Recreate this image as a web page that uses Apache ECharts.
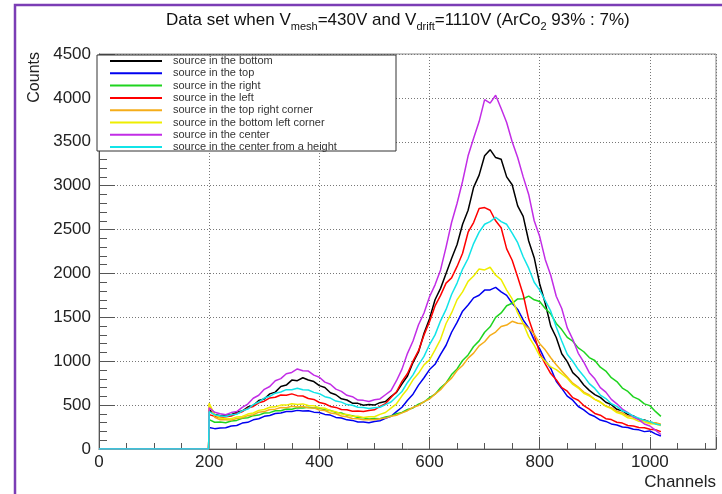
<!DOCTYPE html>
<html><head><meta charset="utf-8">
<script src="https://cdn.jsdelivr.net/npm/echarts@6/dist/echarts.min.js"></script>
<style>html,body{margin:0;padding:0;background:#fff}#c{width:722px;height:494px}</style>
</head><body><div id="c"></div>
<script>
// Channel positions (x values)
const channels = [0,199,
200,210,220,230,240,250,260,270,280,290,
300,310,320,330,340,350,360,370,380,390,
400,410,420,430,440,450,460,470,480,490,
500,510,520,530,540,550,560,570,580,590,
600,610,620,630,640,650,660,670,680,690,
700,710,720,730,740,750,760,770,780,790,
800,810,820,830,840,850,860,870,880,890,
900,910,920,930,940,950,960,970,980,990,
1000,1010,1020];

const names = ["source in the bottom","source in the top","source in the right","source in the left",
"source in the top right corner","source in the bottom left corner","source in the center","source in the center from a height"];
const colors = ['#000000','#0000f0','#1fd41f','#ff0000','#f5ad1a','#eeee00','#c22de6','#11e4e8'];

const srcBottom = [0,0,
445,392,378,388,390,418,432,478,495,552,
570,628,648,712,728,785,778,812,786,768,
722,700,640,618,572,558,522,520,498,508,
500,528,540,598,645,742,832,985,1105,1318,
1485,1700,1830,2000,2170,2330,2560,2720,2980,3120,
3340,3410,3320,3300,3100,3010,2770,2650,2370,2180,
1880,1660,1400,1270,1085,995,870,812,730,668,
620,588,532,505,452,436,392,376,340,330,
305,295,275];
const srcTop = [0,0,
245,232,240,242,262,268,295,304,332,344,
372,381,404,410,428,426,440,432,436,420,
416,394,386,360,354,332,326,308,308,298,
314,322,350,372,425,476,556,625,728,812,
905,965,1078,1182,1330,1442,1570,1640,1722,1752,
1810,1812,1842,1790,1750,1660,1590,1470,1380,1240,
1140,1010,920,772,690,602,556,484,446,396,
370,330,314,286,274,250,244,224,218,198,
206,172,148];
const srcRight = [0,0,
335,305,308,300,318,326,350,356,380,386,
410,414,436,436,456,454,470,466,476,466,
466,446,440,416,410,386,378,358,356,342,
348,346,366,375,402,416,450,468,510,535,
586,625,698,752,848,912,1008,1072,1168,1232,
1330,1392,1500,1550,1632,1660,1710,1712,1742,1700,
1680,1600,1540,1430,1360,1272,1228,1152,1108,1042,
1008,932,888,812,768,694,656,594,566,514,
494,428,372];
const srcLeft = [0,0,
392,372,355,368,376,405,425,466,485,526,
545,582,590,615,612,628,608,604,575,565,
530,515,485,474,450,448,430,434,426,438,
446,485,515,586,652,770,860,1000,1120,1300,
1450,1630,1750,1890,1950,2080,2230,2470,2580,2740,
2750,2720,2600,2520,2280,2150,1960,1760,1480,1300,
1090,970,860,790,700,658,585,556,495,455,
405,385,345,335,305,295,268,262,245,242,
225,220,198];
const srcTopRight = [0,0,
515,362,332,334,330,348,356,380,390,420,
426,450,454,472,471,486,478,484,470,468,
445,438,410,402,376,368,348,345,332,335,
332,345,352,372,385,412,436,474,496,540,
570,625,675,750,808,895,952,1035,1092,1175,
1222,1295,1332,1395,1412,1455,1432,1428,1372,1310,
1200,1130,1040,960,890,820,750,705,648,615,
565,535,490,470,430,410,375,365,335,325,
300,298,282];
const srcBottomLeft = [0,0,
520,392,352,348,346,364,370,398,410,440,
450,475,480,500,500,515,508,514,496,494,
470,464,436,424,400,394,374,373,360,368,
368,394,416,466,515,606,684,788,862,958,
1015,1130,1250,1430,1550,1700,1790,1910,1970,2050,
2040,2070,1980,1930,1810,1710,1550,1430,1280,1180,
1060,1000,935,905,855,806,735,695,635,605,
565,535,485,460,415,395,355,345,315,308,
288,284,268];
const srcCenter = [0,0,
470,418,402,390,415,426,475,512,578,612,
680,712,778,802,858,872,912,892,888,842,
818,762,738,682,656,612,596,558,554,542,
560,570,618,664,778,910,1090,1230,1415,1550,
1735,1870,2040,2300,2580,2800,3050,3340,3540,3730,
3980,3940,4030,3880,3720,3500,3320,3100,2900,2600,
2420,2160,1980,1740,1600,1380,1250,1090,990,870,
800,700,648,565,515,455,415,365,335,285,
262,215,165];
const srcCenterHeight = [0,0,
425,388,378,370,390,396,435,455,505,535,
580,600,636,650,676,674,692,676,672,645,
630,596,580,546,534,506,498,476,472,462,
470,476,505,535,596,655,758,845,958,1055,
1190,1300,1460,1590,1760,1890,2050,2170,2340,2470,
2560,2590,2640,2590,2560,2460,2350,2190,2060,1900,
1810,1690,1570,1390,1230,1080,1000,905,830,745,
690,615,575,515,485,435,412,375,352,326,
312,286,272];

const FONT = '"Liberation Sans", Arial, Helvetica, sans-serif';
const allVals = [srcBottom, srcTop, srcRight, srcLeft, srcTopRight, srcBottomLeft, srcCenter, srcCenterHeight];

const series = allVals.map((vals, i) => ({
  name: names[i], type: 'line', xAxisIndex: 0, yAxisIndex: 0,
  data: channels.map((c, j) => [c, vals[j]]),
  showSymbol: false, symbol: 'none', color: colors[i],
  lineStyle: { width: 1.5, color: colors[i] },
  silent: true, animation: false
}));

const chart = echarts.init(document.getElementById('c'), null, { renderer: 'canvas' });
chart.setOption({
  animation: false,
  backgroundColor: '#ffffff',
  title: {
    text: '{n|Data set when V}{s|mesh}{n|=430V and V}{s|drift}{n|=1110V (ArCo}{s|2}{n| 93% : 7%)}',
    left: 166, top: 8, padding: 0,
    textStyle: {
      fontWeight: 'normal',
      rich: {
        n: { fontSize: 17, fontFamily: FONT, fontWeight: 'normal', color: '#111', lineHeight: 24 },
        s: { fontSize: 11, fontFamily: FONT, fontWeight: 'normal', color: '#111', lineHeight: 11, verticalAlign: 'bottom' }
      }
    }
  },
  grid: { left: 99, top: 54, right: 6, bottom: 45, show: true, borderColor: '#888', borderWidth: 1 },
  xAxis: [{
    type: 'value', min: 0, max: 1120, interval: 200,
    axisLine: { show: true, lineStyle: { color: '#555', width: 1 } },
    axisTick: { show: true, inside: true, length: 12, lineStyle: { color: '#555' } },
    axisLabel: { fontSize: 17, fontFamily: FONT, color: '#222', margin: 5,
      formatter: v => (v % 200 === 0 ? String(v) : '') },
    splitLine: { show: true, lineStyle: { color: '#777', type: [1, 2], width: 1 } }
  }, {
    type: 'value', min: 0, max: 1120, interval: 50, position: 'bottom',
    axisLine: { show: false },
    axisTick: { show: true, inside: true, length: 6, lineStyle: { color: '#555' } },
    axisLabel: { show: false },
    splitLine: { show: false }
  }],
  yAxis: {
    type: 'value', min: 0, max: 4500, interval: 500,
    axisLine: { show: true, lineStyle: { color: '#555', width: 1 } },
    axisTick: { show: true, inside: true, length: 16, lineStyle: { color: '#555' } },
    minorTick: { show: true, splitNumber: 5, length: 8, lineStyle: { color: '#555' } },
    axisLabel: { fontSize: 17, fontFamily: FONT, color: '#222', margin: 8, formatter: v => String(v) },
    splitLine: { show: true, lineStyle: { color: '#777', type: [1, 2], width: 1 } }
  },
  legend: {
    orient: 'vertical', left: 97, top: 55, padding: [0, 0, 0, 13],
    itemWidth: 52, itemHeight: 2, itemGap: 0.3, icon: 'rect', z: 60,
    selectedMode: false, data: names,
    textStyle: { fontSize: 11, fontFamily: FONT, color: '#333', lineHeight: 12, padding: [0, 0, 0, 6] }
  },
  graphic: [
    { type: 'rect', z: 50, silent: true, shape: { x: 97, y: 55, width: 299, height: 96 },
      style: { fill: '#ffffff', stroke: '#333', lineWidth: 1 } },
    { type: 'rect', z: 100, silent: true, shape: { x: 15, y: 5, width: 760, height: 540 },
      style: { fill: 'none', stroke: '#7b3db5', lineWidth: 2.5 } },
    { type: 'text', z: 100, silent: true, x: 35, y: 52, rotation: Math.PI / 2,
      style: { text: 'Counts', font: '16px ' + FONT, fill: '#222', align: 'right', verticalAlign: 'middle',
        textAlign: 'right', textVerticalAlign: 'middle' } },
    { type: 'text', z: 100, silent: true, x: 716, y: 482,
      style: { text: 'Channels', font: '17px ' + FONT, fill: '#222', align: 'right', verticalAlign: 'middle',
        textAlign: 'right', textVerticalAlign: 'middle' } }
  ],
  series: series
});
</script>
</body></html>
